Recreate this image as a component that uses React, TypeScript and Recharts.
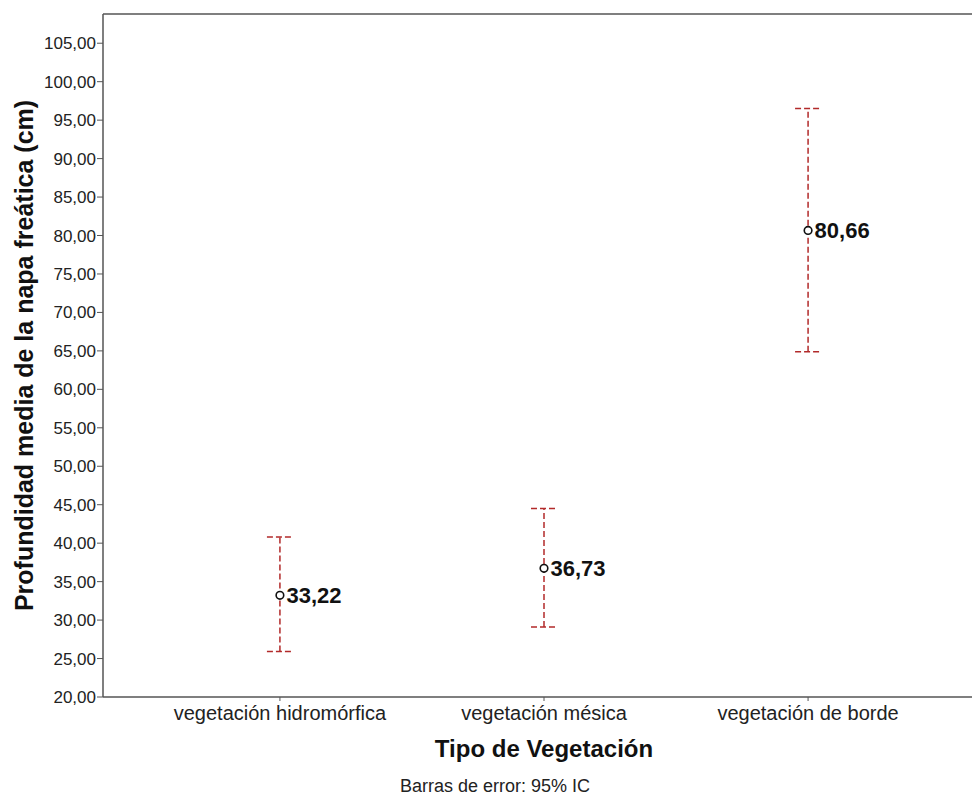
import React from "react";
import { ComposedChart, Scatter, ErrorBar, XAxis, YAxis, ReferenceLine, LabelList } from "recharts";

const categories = ["vegetación hidromórfica", "vegetación mésica", "vegetación de borde"];
const means = [33.22, 36.73, 80.66];
const lower = [25.9, 29.1, 64.9];
const upper = [40.8, 44.5, 96.5];
const yTicks = [20, 25, 30, 35, 40, 45, 50, 55, 60, 65, 70, 75, 80, 85, 90, 95, 100, 105];
const Y_MAX = 108.8;

const data = categories.map((name, i) => ({
  x: i,
  name,
  mean: means[i],
  err: [means[i] - lower[i], upper[i] - means[i]],
}));

const FONT = "Arial, 'Liberation Sans', sans-serif";
const AXIS = "#555";
const RED = "#b22a2a";

const fmt = (v: number) => v.toFixed(2).replace(".", ",");

function Dot(props: any) {
  const { cx, cy } = props;
  return <circle cx={cx} cy={cy} r={3.8} fill="#fff" stroke="#111" strokeWidth={1.6} />;
}

function YTitle(props: any) {
  const { viewBox } = props;
  const cy = viewBox.y + viewBox.height / 2;
  const cx = 33;
  return (
    <text x={cx} y={cy} transform={`rotate(-90 ${cx} ${cy})`} textAnchor="middle"
      fontFamily={FONT} fontSize={25} fontWeight="bold" fill="#111">
      Profundidad media de la napa freática (cm)
    </text>
  );
}

export default function App() {
  return (
    <div style={{ position: "absolute", left: 0, top: 0, width: 972, height: 795, overflow: "hidden", background: "#fff", fontFamily: FONT }}>
      <ComposedChart width={990} height={795} data={data} margin={{ top: 14, right: 5, bottom: 0, left: 0 }}>
        <XAxis
          dataKey="x"
          type="number"
          domain={[-0.67, 2.67]}
          ticks={[0, 1, 2]}
          tickFormatter={(v: number) => categories[v]}
          height={98}
          tickSize={4}
          tickMargin={5}
          axisLine={{ stroke: AXIS, strokeWidth: 1.5 }}
          tickLine={{ stroke: AXIS }}
          tick={{ fill: "#222", fontSize: 20, fontFamily: FONT }}
          label={{ value: "Tipo de Vegetación", position: "insideBottom", offset: 38, fill: "#111", fontSize: 24, fontWeight: "bold", fontFamily: FONT }}
          allowDataOverflow
        />
        <YAxis
          type="number"
          domain={[20, Y_MAX]}
          ticks={yTicks}
          tickFormatter={fmt}
          width={103}
          tickSize={6}
          tickMargin={1}
          axisLine={{ stroke: AXIS, strokeWidth: 1.5 }}
          tickLine={{ stroke: AXIS }}
          tick={{ fill: "#222", fontSize: 17, fontFamily: FONT }}
          label={<YTitle />}
          allowDataOverflow
        />
        <ReferenceLine y={Y_MAX} stroke={AXIS} strokeWidth={1.5} />
        <Scatter dataKey="mean" shape={<Dot />} isAnimationActive={false}>
          <ErrorBar dataKey="err" direction="y" width={13} stroke={RED} strokeWidth={1.5} strokeDasharray="6 3" />
          <LabelList dataKey="mean" position="right" offset={2} formatter={(v: any) => fmt(Number(v))}
            fill="#111" fontSize={22} fontWeight="bold" fontFamily={FONT} />
        </Scatter>
      </ComposedChart>
      <div style={{ position: "absolute", left: 400, top: 776, fontSize: 18, color: "#222", whiteSpace: "nowrap", lineHeight: "20px" }}>
        Barras de error: 95% IC
      </div>
    </div>
  );
}
